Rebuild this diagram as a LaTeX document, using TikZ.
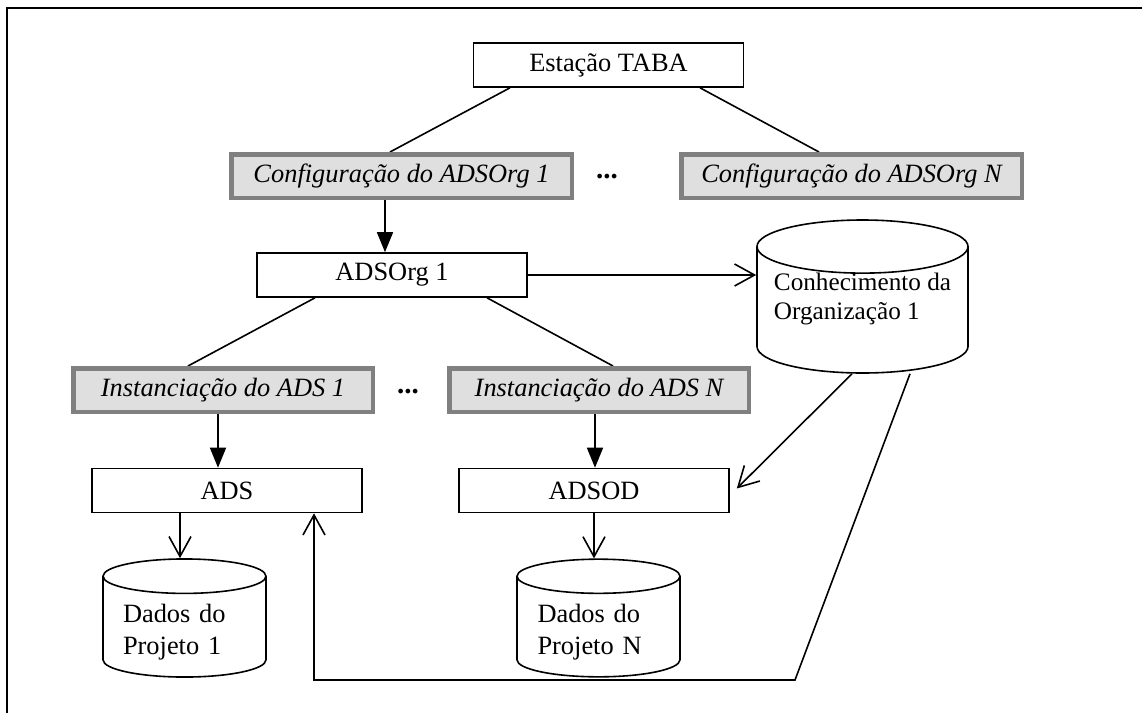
\documentclass[tikz,border=0pt]{standalone}
\usepackage{fontspec}
\setmainfont{Liberation Serif}
\usetikzlibrary{arrows.meta}
\usetikzlibrary{shapes.geometric}
\pgfdeclarelayer{edgelayer}
\pgfdeclarelayer{nodelayer}
\pgfsetlayers{edgelayer,nodelayer,main}
\newcommand{\diagfont}{\fontsize{13.2pt}{16pt}\selectfont}
\tikzstyle{plain box}=[rectangle,draw=black,fill=white,line width=0.8pt,minimum width=135pt,minimum height=22pt,inner sep=0pt,font=\diagfont]
\tikzstyle{config box}=[rectangle,draw=gray,fill=gray!25,line width=2.25pt,minimum height=21.75pt,inner sep=0pt,font=\diagfont\itshape]
\tikzstyle{dots}=[inner sep=0pt,font=\fontsize{14.5pt}{16pt}\selectfont\bfseries]
\tikzstyle{store}=[cylinder,shape border rotate=90,draw=black,fill=white,line width=0.8pt,align=left,inner sep=0pt,anchor=shape center,font=\diagfont]
\tikzstyle{link}=[-,draw=black,line width=0.8pt]
\tikzstyle{call}=[-{Triangle[length=10pt,width=8pt]},draw=black,line width=0.8pt]
\tikzstyle{flow}=[-{Straight Barb[length=10pt,width=11pt]},draw=black,line width=0.8pt]

\begin{document}
\begin{tikzpicture}[x=25pt,y=25pt]
	\useasboundingbox (0,0) rectangle (22.84,-14.26);
	\draw [line width=1pt] (0.14,-14.26) -- (0.14,-0.16) -- (22.84,-0.16);
	\begin{pgfonlayer}{nodelayer}
		\node [style=plain box] (0) at (12.17, -1.30) {Estação TABA};
		\node [style=config box, minimum width=170.25pt] (1) at (8.03, -3.52) {Configuração do ADSOrg 1};
		\node [style=dots] (2) at (12.14, -3.54) {...};
		\node [style=config box, minimum width=170.25pt] (3) at (17.03, -3.52) {Configuração do ADSOrg N};
		\node [style=plain box] (4) at (7.84, -5.50) {ADSOrg 1};
		\node [style=store, minimum width=105.5pt, minimum height=76.5pt, aspect=0.3, font=\fontsize{12.6pt}{14.5pt}\selectfont] (5) at (17.25, -5.93) {\raisebox{5.25pt}[\height][\depth]{\begin{tabular}{@{}l@{}}Conhecimento da\\Organização 1\end{tabular}}};
		\node [style=config box, minimum width=149.75pt] (6) at (4.46, -7.80) {Instanciação do ADS 1};
		\node [style=dots] (7) at (8.16, -7.84) {...};
		\node [style=config box, minimum width=149.75pt] (8) at (11.98, -7.80) {Instanciação do ADS N};
		\node [style=plain box] (9) at (4.54, -9.81) {ADS};
		\node [style=plain box] (10) at (11.88, -9.81) {ADSOD};
		\node [style=store, minimum width=81.5pt, minimum height=48pt, aspect=0.28, text width=61.5pt, text height=14pt] (11) at (3.69, -12.36) {Dados do\\Projeto 1};
		\node [style=store, minimum width=81.5pt, minimum height=48pt, aspect=0.28, text width=61pt, text height=14pt] (12) at (11.97, -12.36) {Dados do\\Projeto N};
		\coordinate (13) at (15.90, -13.60);
	\end{pgfonlayer}
	\begin{pgfonlayer}{edgelayer}
		\draw [style=link] ([xshift=-49.25pt]0.south) to ([xshift=-5.75pt]1.north);
		\draw [style=link] ([xshift=45.75pt]0.south) to ([xshift=-16.25pt]3.north);
		\draw [style=call] ([xshift=-8.25pt]1.south) to ([xshift=-8.25pt]1.south |- 4.north);
		\draw [style=flow] (4.east) to (4.east -| 5.west);
		\draw [style=link] ([xshift=-38.5pt]4.south) to ([xshift=-17.5pt]6.north);
		\draw [style=link] ([xshift=47.5pt]4.south) to ([xshift=7pt]8.north);
		\draw [style=call] ([xshift=-2.5pt]6.south) to ([xshift=-2.5pt]6.south |- 9.north);
		\draw [style=call] ([xshift=-2pt]8.south) to ([xshift=-2pt]8.south |- 10.north);
		\draw [style=flow] ([xshift=-23.5pt]9.south) to ([xshift=-23.5pt]9.south |- 11.north);
		\draw [style=flow] (10.south) to (10.south |- 12.north);
		\draw [style=flow] ([xshift=-5.25pt]5.south) to ([xshift=3.5pt,yshift=1pt]10.east);
		\draw [style=flow] ([xshift=23.75pt]5.south) -- (13) -- ([xshift=43.5pt]9.south |- 13) -- ([xshift=43.5pt]9.south);
	\end{pgfonlayer}
\end{tikzpicture}
\end{document}
